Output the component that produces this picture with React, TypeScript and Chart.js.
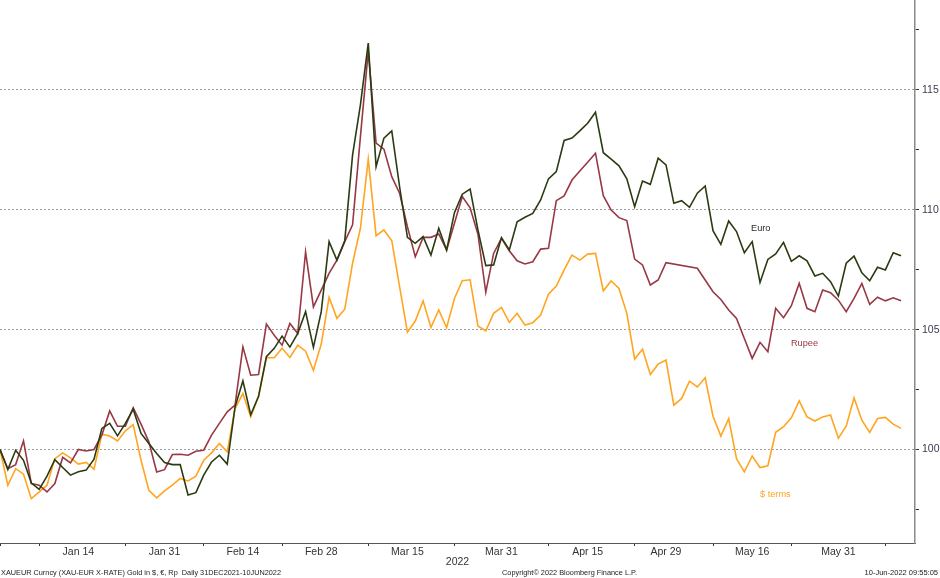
import { useEffect, useRef } from "react"
import { Chart, registerables, type Plugin } from "chart.js"

Chart.register(...registerables)

// Bloomberg plots every weekday from the start to the end date
const startDate = "2021-12-31"
const endDate = "2022-06-10"

const euro = [
  100.0, 99.16, 99.97, 99.55, 98.6, 98.34, 98.89, 99.58, 99.25, 98.93,
  99.07, 99.14, 99.6, 100.88, 101.09, 100.57, 101.09, 101.68, 100.67, 100.25,
  99.83, 99.46, 99.37, 99.37, 98.1, 98.2, 98.93, 99.48, 99.76, 99.39,
  101.78, 102.86, 101.45, 102.22, 103.87, 104.22, 104.73, 104.27, 104.84, 105.75,
  104.26, 105.75, 108.67, 107.9, 108.71, 112.29, 114.38, 116.95, 111.8, 112.99,
  113.29, 110.96, 108.85, 108.6, 108.88, 108.11, 109.23, 108.32, 109.88, 110.65,
  110.86, 109.16, 107.67, 107.7, 108.84, 108.32, 109.5, 109.69, 109.85, 110.41,
  111.29, 111.59, 112.89, 112.99, 113.29, 113.61, 114.07, 112.38, 112.11, 111.83,
  111.29, 110.13, 111.2, 111.06, 112.15, 111.87, 110.27, 110.38, 110.1, 110.69,
  110.99, 109.13, 108.56, 109.53, 109.09, 108.21, 108.67, 106.97, 107.93, 108.16,
  108.64, 107.85, 108.08, 107.87, 107.24, 107.35, 107.0, 106.4, 107.77, 108.07,
  107.37, 107.04, 107.6, 107.49, 108.21, 108.08,
]

// no rupee fixes for three days early in May
const rupee = [
  100.0, 99.2, 99.37, 100.36, 98.58, 98.51, 98.23, 98.58, 99.67, 99.44,
  100.0, 99.94, 100.0, 100.6, 101.61, 100.97, 100.97, 101.74, 101.06, 100.32,
  99.06, 99.16, 99.79, 99.8, 99.76, 99.93, 99.97, 100.6, 101.09, 101.57,
  101.85, 104.28, 103.1, 103.13, 105.23, 104.77, 104.35, 105.26, 104.84, 108.24,
  105.95, 106.65, 107.35, 107.9, 108.67, 109.37, 113.05, 116.6, 112.78, 112.53,
  111.38, 110.69, 109.29, 108.04, 108.85, 108.85, 108.99, 108.32, 109.44, 110.55,
  110.08, 108.98, 106.56, 108.18, 108.81, 108.29, 107.87, 107.74, 107.83, 108.36,
  108.39, 110.38, 110.58, 111.24, 111.62, 111.98, 112.36, 110.59, 109.99, 109.67,
  109.55, 107.94, 107.7, 106.86, 107.07, 107.79, null, null, null, 107.56,
  107.07, 106.58, 106.26, 105.82, 105.47, 104.63, 103.8, 104.47, 104.08, 105.89,
  105.5, 106.0, 106.93, 105.89, 105.75, 106.65, 106.54, 106.23, 105.75, 106.3,
  106.93, 106.05, 106.35, 106.2, 106.33, 106.2,
]

const usd = [
  100.0, 98.51, 99.2, 98.97, 97.95, 98.23, 98.51, 99.62, 99.86, 99.65,
  99.39, 99.46, 99.18, 100.64, 100.56, 100.36, 100.78, 101.04, 99.55, 98.3,
  97.98, 98.27, 98.51, 98.79, 98.69, 98.89, 99.55, 99.86, 100.25, 99.9,
  101.71, 102.33, 101.36, 102.22, 103.83, 103.83, 104.22, 103.84, 104.35, 104.1,
  103.3, 104.4, 106.35, 105.47, 105.85, 107.77, 109.23, 112.11, 108.92, 109.16,
  108.71, 106.79, 104.89, 105.36, 106.2, 105.09, 105.82, 105.08, 106.3, 107.04,
  107.08, 105.15, 104.95, 105.68, 105.93, 105.3, 105.68, 105.19, 105.29, 105.61,
  106.48, 106.82, 107.49, 108.11, 107.9, 108.15, 108.18, 106.62, 107.03, 106.72,
  105.68, 103.77, 104.18, 103.13, 103.56, 103.73, 101.85, 102.13, 102.85, 102.61,
  102.99, 101.39, 100.56, 101.29, 99.62, 99.07, 99.73, 99.25, 99.32, 100.72,
  100.95, 101.32, 102.03, 101.36, 101.19, 101.36, 101.44, 100.47, 100.97, 102.15,
  101.22, 100.71, 101.29, 101.34, 101.06, 100.88,
]

const labelDates = [
  "2022-01-14", "2022-01-31", "2022-02-14", "2022-02-28", "2022-03-15",
  "2022-03-31", "2022-04-15", "2022-04-29", "2022-05-16", "2022-05-31",
]
const tickDates = [
  "2021-12-31", "2022-01-07", "2022-01-24", "2022-02-07", "2022-02-21", "2022-03-08",
  "2022-03-23", "2022-04-08", "2022-04-25", "2022-05-09", "2022-05-23", "2022-06-08",
]
const yTicks = [97.5, 100, 102.5, 105, 107.5, 110, 112.5, 115, 117.5]

const EURO_COLOR = "#2a3b12"
const RUPEE_COLOR = "#983845"
const USD_COLOR = "#ffa51f"

// in-plot series names, anchored in data units (weekday index, value)
const seriesTags = [
  { text: "Euro", at: 95.85, value: 109.2, color: "#2b2b2b" },
  { text: "Rupee", at: 100.95, value: 104.44, color: RUPEE_COLOR },
  { text: "$ terms", at: 97.0, value: 98.14, color: USD_COLOR },
]

const footLeft = "XAUEUR Curncy (XAU-EUR X-RATE) Gold in $, \u20ac, Rp  Daily 31DEC2021-10JUN2022"
const footMid = "Copyright\u00a9 2022 Bloomberg Finance L.P."
const footRight = "10-Jun-2022 09:55:05"

const FONT = "'Liberation Sans', Arial, sans-serif"
const MONTHS = ["Jan", "Feb", "Mar", "Apr", "May", "Jun", "Jul", "Aug", "Sep", "Oct", "Nov", "Dec"]

function weekdays(from: string, to: string): string[] {
  const out: string[] = []
  const d = new Date(from + "T00:00:00Z")
  const end = new Date(to + "T00:00:00Z")
  while (d <= end) {
    const wd = d.getUTCDay()
    if (wd !== 0 && wd !== 6) out.push(d.toISOString().slice(0, 10))
    d.setUTCDate(d.getUTCDate() + 1)
  }
  return out
}

const days = weekdays(startDate, endDate)
const labelIdx = labelDates.map((d) => days.indexOf(d))
const tickIdx = tickDates.map((d) => days.indexOf(d))

function shortDate(iso: string) {
  const [, m, d] = iso.split("-")
  return `${MONTHS[Number(m) - 1]} ${Number(d)}`
}

const toPoints = (values: (number | null)[]) => values.map((y, x) => ({ x, y }))

const decorations: Plugin<"line"> = {
  id: "decorations",
  afterDraw(chart) {
    const { ctx, chartArea, scales } = chart
    ctx.save()
    ctx.textBaseline = "middle"

    ctx.font = `9.2px ${FONT}`
    ctx.textAlign = "left"
    for (const tag of seriesTags) {
      ctx.fillStyle = tag.color
      ctx.fillText(tag.text, scales.x.getPixelForValue(tag.at), scales.y.getPixelForValue(tag.value))
    }

    ctx.fillStyle = "#333"
    ctx.font = `10.5px ${FONT}`
    ctx.textAlign = "center"
    ctx.fillText("2022", (chartArea.left + chartArea.right) / 2, chartArea.bottom + 19)

    ctx.font = `7.5px ${FONT}`
    ctx.fillStyle = "#222"
    ctx.textAlign = "left"
    ctx.fillText(footLeft, 1, chartArea.bottom + 30, 280)
    ctx.fillText(footMid, 502, chartArea.bottom + 30, 135)
    ctx.textAlign = "right"
    ctx.fillText(footRight, chart.width - 2, chartArea.bottom + 30, 76)
    ctx.restore()
  },
}

function GoldChart() {
  const canvasRef = useRef<HTMLCanvasElement>(null)
  const chartRef = useRef<Chart<"line"> | null>(null)

  useEffect(() => {
    if (!canvasRef.current) return
    if (chartRef.current) chartRef.current.destroy()

    const line = (label: string, values: (number | null)[], color: string) => ({
      label,
      data: toPoints(values),
      borderColor: color,
      backgroundColor: color,
      borderWidth: 1.6,
      pointRadius: 0,
      tension: 0,
      spanGaps: true,
    })

    chartRef.current = new Chart(canvasRef.current, {
      type: "line",
      data: {
        datasets: [
          line("Euro", euro, EURO_COLOR),
          line("Rupee", rupee, RUPEE_COLOR),
          line("$ terms", usd, USD_COLOR),
        ],
      },
      options: {
        animation: false,
        responsive: true,
        maintainAspectRatio: false,
        layout: { padding: 0 },
        plugins: {
          legend: { display: false },
          tooltip: { enabled: false },
        },
        scales: {
          x: {
            type: "linear",
            min: 0,
            max: 116.78,
            afterBuildTicks: (scale) => {
              scale.ticks = [...tickIdx, ...labelIdx].sort((a, b) => a - b).map((value) => ({ value }))
            },
            afterFit: (scale) => {
              scale.height = 35
              scale.paddingLeft = 0
              scale.paddingRight = 0
            },
            ticks: {
              autoSkip: false,
              maxRotation: 0,
              padding: 0,
              color: "#333",
              font: { family: FONT, size: 10.5 },
              callback: (value) => {
                const i = Number(value)
                return labelIdx.includes(i) ? shortDate(days[i]) : ""
              },
            },
            grid: {
              drawOnChartArea: false,
              drawTicks: true,
              tickLength: 3,
              tickColor: (ctx) => (ctx.tick && labelIdx.includes(ctx.tick.value) ? "transparent" : "#333"),
            },
            border: { display: true, color: "#555", width: 1 },
          },
          y: {
            position: "right",
            min: 96.1,
            max: 118.75,
            afterBuildTicks: (scale) => {
              scale.ticks = yTicks.map((value) => ({ value }))
            },
            afterFit: (scale) => {
              scale.width = 25
              scale.paddingTop = 0
              scale.paddingBottom = 0
            },
            ticks: {
              padding: 3,
              color: "#3b3b4f",
              font: { family: FONT, size: 10.5 },
              callback: (value) => (Number(value) % 5 === 0 ? String(value) : ""),
            },
            grid: {
              color: (ctx) => (ctx.tick && ctx.tick.value % 5 === 0 ? "#a0a0a0" : "transparent"),
              lineWidth: 1,
              tickLength: 4,
              tickColor: "#333",
            },
            border: { display: true, color: "#8a8a8a", width: 1.5, dash: [2, 2] },
          },
        },
      },
      plugins: [decorations],
    })

    return () => {
      if (chartRef.current) {
        chartRef.current.destroy()
        chartRef.current = null
      }
    }
  }, [])

  return (
    <div style={{ position: "fixed", left: 0, top: 0, width: "940px", height: "578px", background: "#fff" }}>
      <canvas ref={canvasRef} />
    </div>
  )
}

export default function App() {
  return <GoldChart />
}
